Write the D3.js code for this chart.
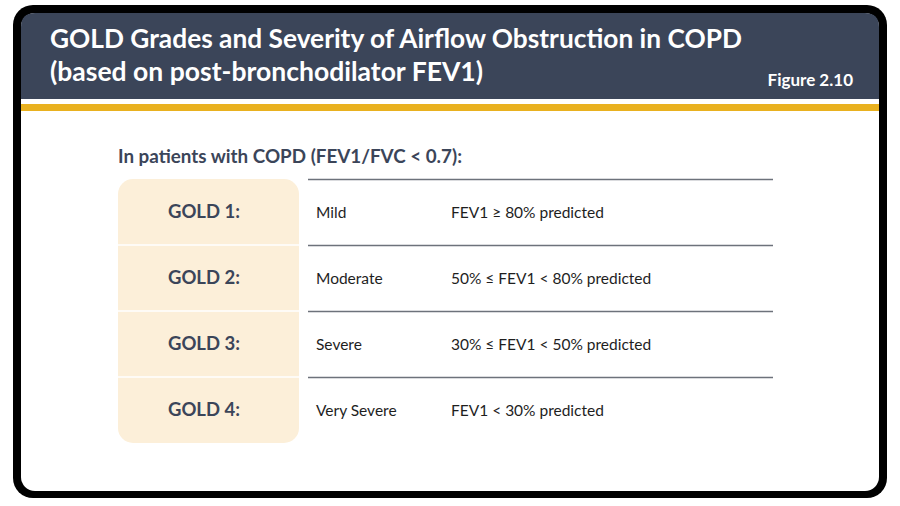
<!DOCTYPE html>
<html>
<head>
<meta charset="utf-8">
<script src="https://cdn.jsdelivr.net/npm/d3@7"></script>
<style>
  body { margin: 0; background: #fff; }
  svg { display: block; }
</style>
</head>
<body>
<div id="chart"></div>
<script>
// table contents
var grades = ["GOLD 1:", "GOLD 2:", "GOLD 3:", "GOLD 4:"];
var severities = ["Mild", "Moderate", "Severe", "Very Severe"];
var criteria = ["FEV1 \u2265 80% predicted", "50% \u2264 FEV1 < 80% predicted",
                "30% \u2264 FEV1 < 50% predicted", "FEV1 < 30% predicted"];
var titleLines = ["GOLD Grades and Severity of Airflow Obstruction in COPD",
                  "(based on post-bronchodilator FEV1)"];

var W = 900, H = 506;
var navy = "#3b4559";
var font = "Lato, 'Open Sans', sans-serif";

var svg = d3.select("#chart")
  .append("svg")
    .attr("width", W)
    .attr("height", H);

// frame
svg.append("rect")
  .attr("x", 13).attr("y", 5)
  .attr("width", 874).attr("height", 493)
  .attr("rx", 20)
  .attr("fill", "#000");
svg.append("rect")
  .attr("x", 21).attr("y", 13)
  .attr("width", 858).attr("height", 478)
  .attr("rx", 14)
  .attr("fill", "#fff");

// header
svg.append("path")
  .attr("d", "M21,99 V27 Q21,13 35,13 H865 Q879,13 879,27 V99 Z")
  .attr("fill", navy);
svg.append("rect")
  .attr("x", 21).attr("y", 104)
  .attr("width", 858).attr("height", 7)
  .attr("fill", "#e9b11f");

svg.selectAll(".title")
  .data(titleLines)
  .enter().append("text")
    .attr("class", "title")
    .attr("x", 50)
    .attr("y", function(d, i) { return 48 + i * 33; })
    .attr("textLength", function(d, i) { return i == 0 ? 692 : 433; })
    .attr("lengthAdjust", "spacingAndGlyphs")
    .attr("fill", "#fff")
    .style("font-family", font)
    .style("font-weight", "bold")
    .style("font-size", "27px")
    .text(function(d) { return d; });

svg.append("text")
  .attr("x", 853)
  .attr("y", 86)
  .attr("text-anchor", "end")
  .attr("fill", "#fff")
  .style("font-family", font)
  .style("font-weight", "bold")
  .style("font-size", "17px")
  .text("Figure 2.10");

svg.append("text")
  .attr("x", 118)
  .attr("y", 163)
  .attr("textLength", 344)
  .attr("lengthAdjust", "spacingAndGlyphs")
  .attr("fill", navy)
  .style("font-family", font)
  .style("font-weight", "bold")
  .style("font-size", "18.5px")
  .text("In patients with COPD (FEV1/FVC < 0.7):");

// rows
var y = d3.scaleBand()
  .domain(grades)
  .range([179, 443]);

svg.append("rect")
  .attr("x", 118).attr("y", y.range()[0])
  .attr("width", 181).attr("height", y.range()[1] - y.range()[0])
  .attr("rx", 15)
  .attr("fill", "#fcefd9");

svg.selectAll(".sep")
  .data(grades.slice(1))
  .enter().append("line")
    .attr("class", "sep")
    .attr("x1", 118).attr("x2", 299)
    .attr("y1", function(d) { return y(d); })
    .attr("y2", function(d) { return y(d); })
    .attr("stroke", "#fff")
    .attr("stroke-width", 1.5);

svg.selectAll(".rule")
  .data(grades)
  .enter().append("line")
    .attr("class", "rule")
    .attr("x1", 308).attr("x2", 773)
    .attr("y1", function(d) { return y(d) + 0.5; })
    .attr("y2", function(d) { return y(d) + 0.5; })
    .attr("stroke", "#6d727b")
    .attr("stroke-width", 1.6);

var mid = function(i) { return y(grades[i]) + y.bandwidth() / 2 + 6; };

svg.selectAll(".grade")
  .data(grades)
  .enter().append("text")
    .attr("class", "grade")
    .attr("x", 204)
    .attr("y", function(d, i) { return mid(i); })
    .attr("text-anchor", "middle")
    .attr("fill", navy)
    .style("font-family", font)
    .style("font-weight", "bold")
    .style("font-size", "18.5px")
    .text(function(d) { return d; });

svg.selectAll(".sev")
  .data(severities)
  .enter().append("text")
    .attr("class", "sev")
    .attr("x", 316)
    .attr("y", function(d, i) { return mid(i); })
    .attr("fill", "#1e1e1e")
    .style("font-family", font)
    .style("font-size", "15.5px")
    .text(function(d) { return d; });

svg.selectAll(".crit")
  .data(criteria)
  .enter().append("text")
    .attr("class", "crit")
    .attr("x", 451)
    .attr("y", function(d, i) { return mid(i); })
    .attr("fill", "#1e1e1e")
    .style("font-family", font)
    .style("font-size", "15.5px")
    .text(function(d) { return d; });
</script>
</body>
</html>
